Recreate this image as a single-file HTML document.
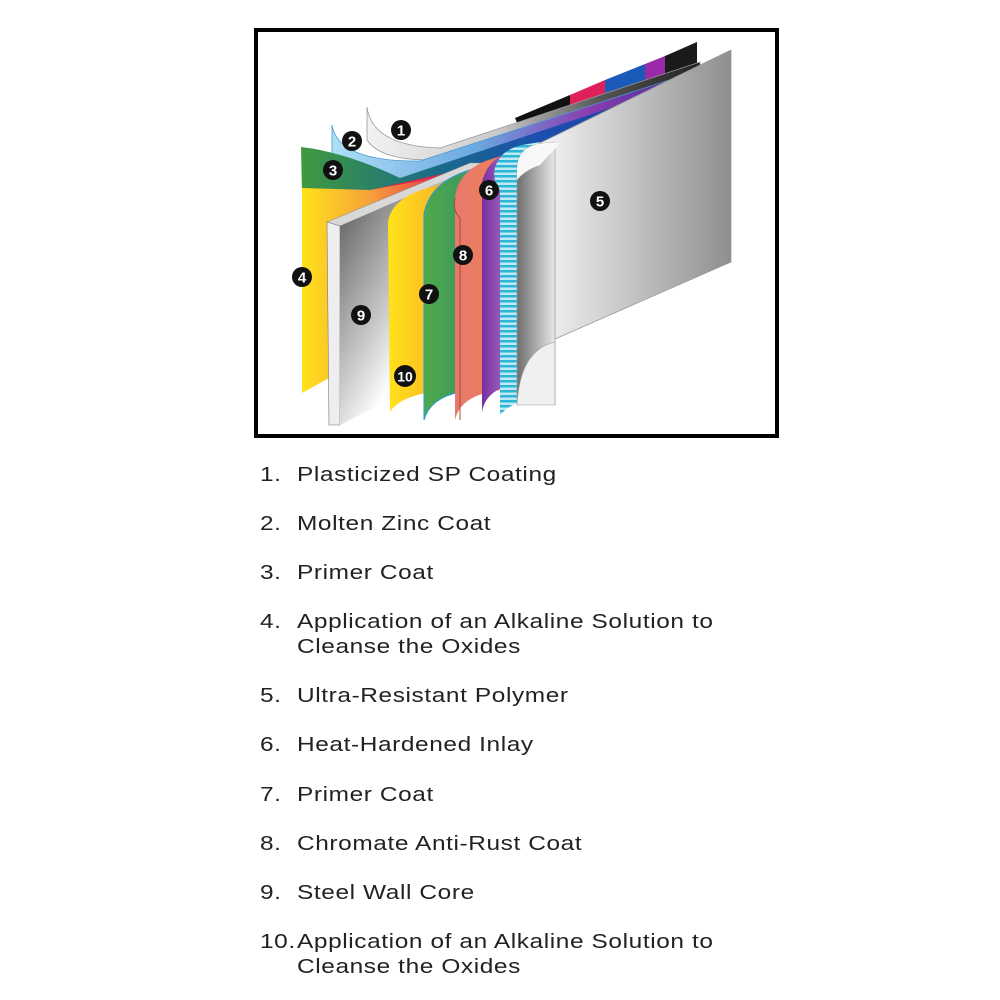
<!DOCTYPE html>
<html><head><meta charset="utf-8"><style>
html,body{margin:0;padding:0;background:#fff;width:1000px;height:1000px;overflow:hidden}
.t{position:absolute;font-family:"Liberation Sans",sans-serif;font-size:20px;color:#222;letter-spacing:0.5px;transform:scaleX(1.22);transform-origin:0 0;white-space:nowrap}
.n{left:260px}.x{left:297px}
</style></head><body>
<svg width="1000" height="1000" style="position:absolute;left:0;top:0">
<defs>
<linearGradient id="g5" x1="0" x2="1"><stop offset="0" stop-color="#f4f4f4"/><stop offset="1" stop-color="#8e8f91"/></linearGradient>
<linearGradient id="g5f" x1="0" x2="1"><stop offset="0" stop-color="#6e6e70"/><stop offset="1" stop-color="#e8e8e8"/></linearGradient>
<linearGradient id="g1" x1="0" x2="1"><stop offset="0" stop-color="#f2f2f2"/><stop offset=".4" stop-color="#c9c9cb"/><stop offset=".7" stop-color="#555"/><stop offset="1" stop-color="#222"/></linearGradient>
<linearGradient id="g2" x1="0" x2="1"><stop offset="0" stop-color="#aee0f6"/><stop offset=".4" stop-color="#6aa6e0"/><stop offset=".7" stop-color="#8a3db0"/><stop offset="1" stop-color="#3a2a90"/></linearGradient>
<linearGradient id="g3" x1="0" x2="1"><stop offset="0" stop-color="#3f9a3f"/><stop offset=".35" stop-color="#1a6a8a"/><stop offset=".6" stop-color="#1a4fb0"/><stop offset="1" stop-color="#2a3a9a"/></linearGradient>
<linearGradient id="g4" x1="0" x2="1"><stop offset="0" stop-color="#ffe21a"/><stop offset=".4" stop-color="#f6a33a"/><stop offset=".8" stop-color="#ee3a4a"/><stop offset="1" stop-color="#c0203a"/></linearGradient>
<linearGradient id="g9" x1="0" y1="0" x2="1" y2="1"><stop offset="0" stop-color="#4a4a4c"/><stop offset=".45" stop-color="#cfcfcf"/><stop offset=".6" stop-color="#ffffff"/><stop offset="1" stop-color="#555"/></linearGradient>
<linearGradient id="g10" x1="0" x2="1"><stop offset="0" stop-color="#ffe21a"/><stop offset=".6" stop-color="#f7962e"/><stop offset="1" stop-color="#f26a34"/></linearGradient>
<linearGradient id="g7" x1="0" x2="1"><stop offset="0" stop-color="#4ea94a"/><stop offset="1" stop-color="#1f7a86"/></linearGradient>
<linearGradient id="g8" x1="0" x2="1"><stop offset="0" stop-color="#e9786e"/><stop offset="1" stop-color="#ef8a3a"/></linearGradient>
<linearGradient id="gp" x1="0" x2="1"><stop offset="0" stop-color="#7a2ea0"/><stop offset=".5" stop-color="#b080d0"/><stop offset="1" stop-color="#a8d8f0"/></linearGradient>
<pattern id="st" width="6" height="5" patternUnits="userSpaceOnUse"><rect width="6" height="5" fill="#bfe9f5"/><rect width="6" height="2.5" fill="#2bb6d8"/></pattern>
</defs>
<rect x="256" y="30" width="521" height="406" fill="#fff" stroke="#000" stroke-width="4"/>
<!-- top strips -->
<polygon points="470,150 697,42 697,72 520,150" fill="#2a2aa0"/>
<polygon points="665,56 697,42 697,66 665,78" fill="#1a1a1a"/>
<polygon points="645,64 665,56 665,78 645,86" fill="#9a2aa8"/>
<polygon points="605,80 645,64 645,88 605,100" fill="#1a5ab8"/>
<polygon points="570,95 605,80 605,100 570,112" fill="#e0205a"/>
<polygon points="515,118 570,95 570,112 520,130" fill="#111"/>
<!-- flap 1 -->
<path d="M367,107 Q372,146 440,148 L700,62 L700,70 L430,160 Q380,160 367,140 Z" fill="url(#g1)" stroke="#999" stroke-width="0.8"/>
<!-- flap 2 -->
<path d="M332,125 Q338,162 420,161 L700,70 L700,78 L420,178 L332,178 Z" fill="url(#g2)" stroke="#4a9ad0" stroke-width="0.8"/>
<!-- flap 3 -->
<path d="M301,147 Q345,152 400,178 L700,78 L700,86 L420,190 L302,192 Z" fill="url(#g3)"/>
<path d="M370,190 L460,170 L700,86 L700,92 L460,180 L380,198 Z" fill="#e02a4a"/>
<!-- panel 4 -->
<polygon points="302,188 370,190 470,172 470,300 302,393" fill="url(#g4)"/>
<!-- panel 9 -->
<polygon points="327,222 470,163 486,163 340,226" fill="#d8d8d8" stroke="#888" stroke-width="0.5"/>
<polygon points="327,222 340,226 340,425 329,425" fill="#eee" stroke="#777" stroke-width="0.6"/>
<polygon points="340,226 486,163 486,350 340,425" fill="url(#g9)"/>
<!-- panel 10/7 yellow -->
<path d="M388,222 Q392,196 435,186 L540,146 L540,380 L430,392 Q398,398 390,412 Z" fill="url(#g10)"/>
<!-- green -->
<path d="M424,214 Q430,182 470,170 L545,143 L545,380 L460,392 Q430,398 424,420 Z" fill="url(#g7)" stroke="#2a9ad0" stroke-width="1"/>
<!-- orange 8 -->
<path d="M455,198 Q458,168 495,158 L548,142 L548,380 L490,392 Q460,398 455,420 Z" fill="url(#g8)"/>
<path d="M455,198 Q452,210 460,218 L460,420" fill="none" stroke="#a05030" stroke-width="1"/>
<!-- purple -->
<path d="M482,182 Q488,156 520,148 L552,140 L552,380 L510,385 Q485,392 482,412 Z" fill="url(#gp)"/>
<!-- striped 6 -->
<path d="M495,168 Q500,150 522,145 L552,140 L552,395 Q515,398 500,415 L500,190 Q492,180 495,168 Z" fill="url(#st)"/>
<!-- panel 5 main -->
<polygon points="540,143 731,50 731,262 555,339 555,200" fill="url(#g5)" stroke="#999" stroke-width="0.8"/>
<path d="M517,170 Q517,145 545,143 L555,143 L555,405 Q525,398 517,405 Z" fill="url(#g5f)" stroke="#999" stroke-width="0.6"/>
<path d="M517,170 Q517,145 545,143 L560,143 L540,165 Q525,170 517,180 Z" fill="#f8f8f8"/>
<path d="M517,405 Q520,350 555,342 L555,405 Z" fill="#f0f0f0" stroke="#999" stroke-width="0.6"/>
<!-- labels -->
<g font-family="Liberation Sans,sans-serif" font-weight="bold" font-size="15" text-anchor="middle">
<g fill="#111">
<circle cx="401" cy="130" r="10"/><circle cx="352" cy="141" r="10"/><circle cx="333" cy="170" r="10"/>
<circle cx="302" cy="277" r="10"/><circle cx="600" cy="201" r="10"/><circle cx="489" cy="190" r="10"/>
<circle cx="429" cy="294" r="10"/><circle cx="463" cy="255" r="10"/><circle cx="361" cy="315" r="10"/>
<circle cx="405" cy="376" r="11"/>
</g>
<g fill="#fff">
<text x="401" y="135.5">1</text><text x="352" y="146.5">2</text><text x="333" y="175.5">3</text>
<text x="302" y="282.5">4</text><text x="600" y="206.5">5</text><text x="489" y="195.5">6</text>
<text x="429" y="299.5">7</text><text x="463" y="260.5">8</text><text x="361" y="320.5">9</text>
<text x="405" y="381.5" font-size="14">10</text>
</g>
</g>
</svg>
<div class="t n" style="top:464px">1.</div><div class="t x" style="top:464px">Plasticized SP Coating</div>
<div class="t n" style="top:513px">2.</div><div class="t x" style="top:513px">Molten Zinc Coat</div>
<div class="t n" style="top:562px">3.</div><div class="t x" style="top:562px">Primer Coat</div>
<div class="t n" style="top:611px">4.</div><div class="t x" style="top:611px">Application of an Alkaline Solution to</div>
<div class="t x" style="top:636px">Cleanse the Oxides</div>
<div class="t n" style="top:685px">5.</div><div class="t x" style="top:685px">Ultra-Resistant Polymer</div>
<div class="t n" style="top:734px">6.</div><div class="t x" style="top:734px">Heat-Hardened Inlay</div>
<div class="t n" style="top:784px">7.</div><div class="t x" style="top:784px">Primer Coat</div>
<div class="t n" style="top:833px">8.</div><div class="t x" style="top:833px">Chromate Anti-Rust Coat</div>
<div class="t n" style="top:882px">9.</div><div class="t x" style="top:882px">Steel Wall Core</div>
<div class="t n" style="top:931px">10.</div><div class="t x" style="top:931px">Application of an Alkaline Solution to</div>
<div class="t x" style="top:956px">Cleanse the Oxides</div>
</body></html>
